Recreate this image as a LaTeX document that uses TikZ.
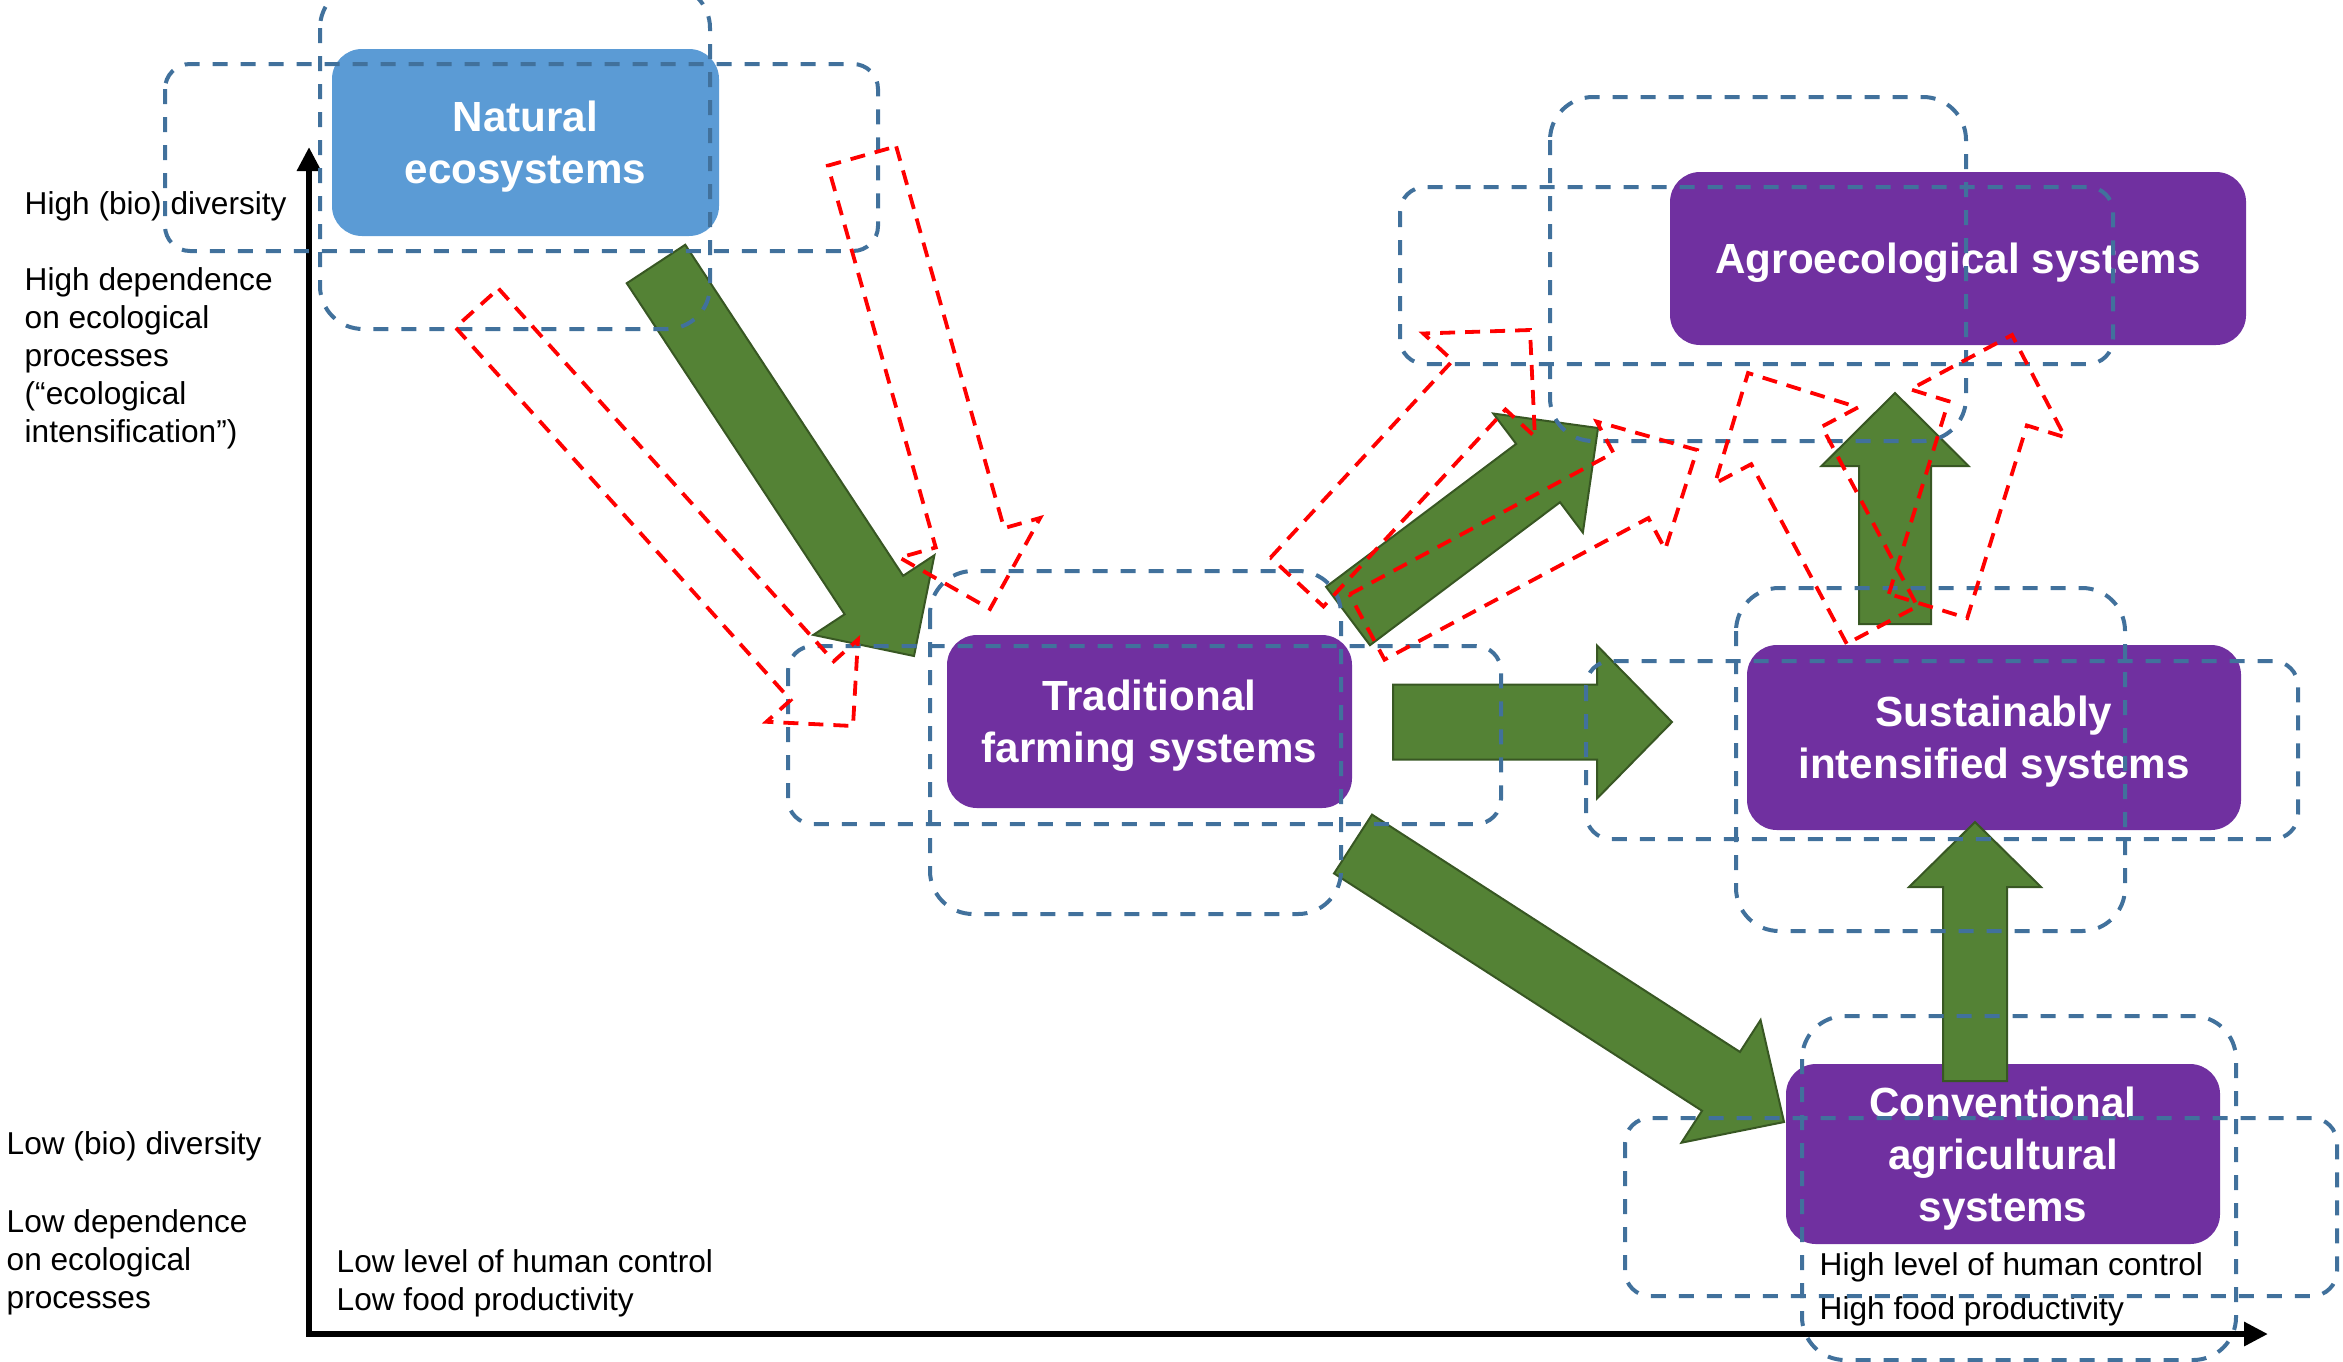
\documentclass[tikz,border=0pt]{standalone}
\usepackage{fontspec}
\setmainfont{Liberation Sans}
\usetikzlibrary{calc,arrows.meta}

\definecolor{natblue}{HTML}{5B9BD5}
\definecolor{syspurple}{HTML}{7030A0}
\definecolor{arrowgreen}{HTML}{548235}
\definecolor{arrowedge}{HTML}{385723}
\definecolor{frameblue}{HTML}{41719C}

\tikzset{
  sysbox/.style={fill=syspurple, text=white, rounded corners=3mm, inner sep=0pt, align=center,
    text depth=0pt, font=\fontsize{12}{14.8}\selectfont\bfseries},
  natbox/.style={sysbox, fill=natblue},
  axistext/.style={inner sep=0pt, align=left, font=\fontsize{9}{10.8}\selectfont},
  axis/.style={line width=0.6mm, {Triangle[length=2.4mm,width=2.3mm]}-{Triangle[length=2.4mm,width=2.3mm]}},
  transition/.style={fill=arrowgreen, draw=arrowedge, line width=0.2mm},
  ghostarrow/.style={draw=red, line width=0.38mm, dash pattern=on 1.5mm off 1mm},
  wideframe/.style={draw=frameblue, line width=0.4mm, dash pattern=on 1.5mm off 1.3mm, rounded corners=2.5mm},
  tallframe/.style={wideframe, rounded corners=4.3mm}
}

% block arrow: style, tail, tip, half shaft, half head, head length
\newcommand{\blockarrow}[6]{%
  \path ($(#3)!#6!(#2)$) coordinate (ah);
  \draw[#1] ($(#2)!#4!90:(#3)$) -- ($(ah)!#4!90:(#3)$) -- ($(ah)!#5!90:(#3)$) -- (#3)
    -- ($(ah)!#5!-90:(#3)$) -- ($(ah)!#4!-90:(#3)$) -- ($(#2)!#4!-90:(#3)$) -- cycle;
}

\begin{document}
\begin{tikzpicture}[x=0.1mm, y=-0.1mm]
  \useasboundingbox (0,0) rectangle (2343,1361);

  % axes
  \coordinate (origin) at (309,1334);
  \coordinate (ytop) at (309,147);
  \coordinate (xend) at (2268,1334);
  \draw[axis] (ytop) -- (origin) -- (xend);

  % systems
  \node[natbox, minimum width=38.7mm, minimum height=18.7mm] (natural) at (525.5,142.5) {Natural\\ecosystems};
  \node[sysbox, minimum width=40.5mm, minimum height=17.3mm] (traditional) at (1149.5,721.5) {Traditional\\farming systems};
  \node[sysbox, minimum width=57.6mm, minimum height=17.3mm] (agroeco) at (1958,258.5) {Agroecological systems};
  \node[sysbox, minimum width=49.4mm, minimum height=18.5mm] (intensified) at (1994,737.5) {Sustainably\\intensified systems};
  \node[sysbox, minimum width=43.4mm, minimum height=18mm] (conventional) at (2003,1154) {Conventional\\agricultural\\systems};

  % transitions between systems
  \coordinate (g1s) at (656,264);   \coordinate (g1e) at (914,656);
  \coordinate (g2s) at (1393,722);  \coordinate (g2e) at (1672,722);
  \coordinate (g3s) at (1348,616);  \coordinate (g3e) at (1598,428);
  \coordinate (g4s) at (1353,844);  \coordinate (g4e) at (1784,1122);
  \coordinate (g5s) at (1895,624);  \coordinate (g5e) at (1895,393);
  \coordinate (g6s) at (1975,1081); \coordinate (g6e) at (1975,822);
  \blockarrow{transition}{g1s}{g1e}{3.5mm}{7.25mm}{7.3mm}
  \blockarrow{transition}{g2s}{g2e}{3.75mm}{7.65mm}{7.5mm}
  \blockarrow{transition}{g3s}{g3e}{3.65mm}{7.45mm}{7.5mm}
  \blockarrow{transition}{g4s}{g4e}{3.5mm}{7.3mm}{7.5mm}
  \blockarrow{transition}{g5s}{g5e}{3.6mm}{7.35mm}{7.3mm}
  \blockarrow{transition}{g6s}{g6e}{3.2mm}{6.6mm}{6.5mm}

  % axis texts
  \node[axistext, anchor=base west] (highdiv) at (24,214) {High (bio) diversity};
  \node[axistext, anchor=north west] (highdep) at (24,267) {High dependence\\on ecological\\processes\\(“ecological\\intensification”)};
  \node[axistext, anchor=base west] (lowdiv) at (6,1154) {Low (bio) diversity};
  \node[axistext, anchor=north west] (lowdep) at (6,1209) {Low dependence\\on ecological\\processes};
  \node[axistext, anchor=north west] (lowctrl) at (336,1249) {Low level of human control\\Low food productivity};
  \node[axistext, anchor=north west] (highctrl) at (1819,1252) {High level of human control\\[1.8pt]High food productivity};

  % frames
  \foreach \xa/\ya/\xb/\yb in {165/64/878/251, 788/646/1501/824, 1400/187/2113/364,
      1586/661/2298/839, 1625/1118/2337/1296}
    \draw[wideframe] (\xa,\ya) rectangle (\xb,\yb);
  \foreach \xa/\ya/\xb/\yb in {320/-15/710/329, 930/571/1341/914, 1550/97/1966/441,
      1736/588/2125/931, 1802/1016/2236/1360}
    \draw[tallframe] (\xa,\ya) rectangle (\xb,\yb);

  % dashed outlines
  \coordinate (r1s) at (477,308);   \coordinate (r1e) at (853,726);
  \coordinate (r2s) at (862,156);   \coordinate (r2e) at (990,609);
  \coordinate (r3s) at (1297,582);  \coordinate (r3e) at (1530,330);
  \coordinate (r4s) at (1367,627);  \coordinate (r4e) at (1697,450);
  \coordinate (r5s) at (1882,625);  \coordinate (r5e) at (1748,373);
  \coordinate (r6s) at (1928,606);  \coordinate (r6e) at (2012,335);
  \blockarrow{ghostarrow}{r1s}{r1e}{2.9mm}{6.15mm}{6.1mm}
  \blockarrow{ghostarrow}{r2s}{r2e}{3.55mm}{7.3mm}{7.4mm}
  \blockarrow{ghostarrow}{r3s}{r3e}{3.6mm}{7.6mm}{7.5mm}
  \blockarrow{ghostarrow}{r4s}{r4e}{3.7mm}{7.25mm}{7.5mm}
  \blockarrow{ghostarrow}{r5s}{r5e}{4mm}{8.1mm}{8.2mm}
  \blockarrow{ghostarrow}{r6s}{r6e}{4.1mm}{8.1mm}{8.2mm}
\end{tikzpicture}
\end{document}
